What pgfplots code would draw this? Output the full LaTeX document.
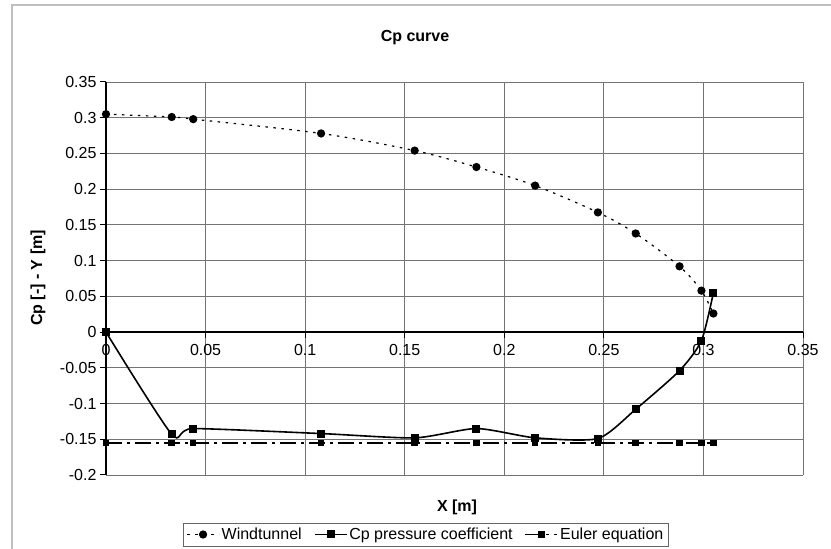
\documentclass[border=0pt]{standalone}
\usepackage{pgfplots}
\pgfplotsset{compat=1.18}
\usepackage{pgfplotstable}
\usepackage{fontspec}
\setmainfont{Liberation Sans}

\newcommand{\chartfont}{\fontsize{16}{19}\selectfont}

% x [m], windtunnel, Cp pressure coefficient, Euler equation
\pgfplotstableread{
x      wind    cp      euler
0      0.305   0.000   -0.155
0.033  0.301   -0.143  -0.155
0.0438 0.298   -0.135  -0.155
0.108  0.278   -0.142  -0.155
0.155  0.254   -0.148  -0.155
0.186  0.231   -0.135  -0.155
0.2155 0.205   -0.148  -0.155
0.247  0.1675  -0.149  -0.155
0.266  0.138   -0.108  -0.155
0.288  0.092   -0.054  -0.155
0.299  0.058   -0.012  -0.155
0.305  0.026   0.055   -0.155
}\cpdata

\begin{document}
\begin{tikzpicture}[x=1pt,y=1pt]
\useasboundingbox (0,0) rectangle (831,549);
% chart area frame
\draw[black!25, line width=1.5pt] (12,0) -- (12,544) -- (831,544);

\begin{axis}[
    at={(106pt,74pt)}, anchor=south west,
    scale only axis,
    width=697pt, height=393pt,
    xmin=0, xmax=0.35,
    ymin=-0.2, ymax=0.35,
    xtick={0,0.05,0.1,0.15,0.2,0.25,0.3,0.35},
    ytick={-0.2,-0.15,-0.1,-0.05,0,0.05,0.1,0.15,0.2,0.25,0.3,0.35},
    axis x line*=middle,
    axis y line*=left,
    hide obscured x ticks=false,
    hide obscured y ticks=false,
    axis line style={black, line width=1.6pt},
    tick style={black, line width=1pt},
    major tick length=6pt,
    tick align=outside,
    grid=major,
    grid style={black!55, line width=0.9pt},
    clip=false,
    /pgf/number format/assume math mode=true,
    /pgf/number format/fixed,
    /pgf/number format/precision=2,
    ticklabel style={font=\chartfont},
    xticklabel style={yshift=-3pt},
    legend columns=-1,
    legend style={at={(0.459,-0.1514)}, anchor=center, draw=black!60,
        line width=0.8pt, font=\chartfont, inner sep=3pt,
        /tikz/every even column/.append style={column sep=10pt}},
    legend image code/.code={
        \draw[mark repeat=2,mark phase=2,#1]
            plot coordinates {(0pt,0pt) (16pt,0pt) (32pt,0pt)};},
]
\addplot[black, line width=1.2pt, smooth, dash pattern=on 2.5pt off 5.5pt,
    mark=*, mark size=3.5pt, mark options={solid}]
    table[x=x, y=wind] {\cpdata};
\addlegendentry{Windtunnel}
\addplot[black, line width=1.6pt, smooth, tension=0.4,
    mark=square*, mark size=3.2pt]
    table[x=x, y=cp] {\cpdata};
\addlegendentry{Cp pressure coefficient}
\addplot[black, line width=1.5pt, dash pattern=on 16pt off 5pt on 3pt off 5pt,
    mark=square*, mark size=2.5pt, mark options={solid}]
    table[x=x, y=euler] {\cpdata};
\addlegendentry{Euler equation}
\end{axis}

\node[font=\bfseries\chartfont] at (415,511) {Cp curve};
\node[font=\bfseries\chartfont, rotate=90] at (38,271) {Cp [-] - Y [m]};
\node[font=\bfseries\chartfont] at (457,42) {X [m]};
\end{tikzpicture}
\end{document}
